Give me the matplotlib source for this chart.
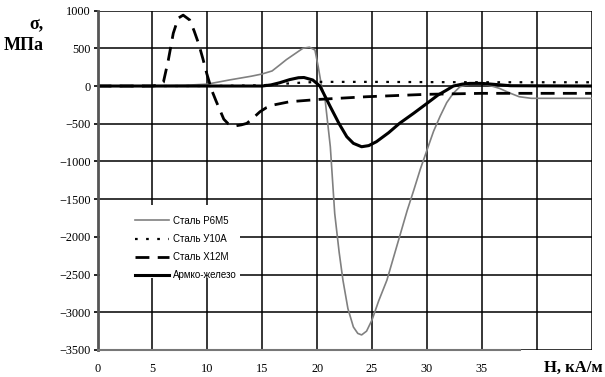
import matplotlib
matplotlib.use('Agg')
import matplotlib.pyplot as plt
from matplotlib.patches import Rectangle

# Сталь Р6М5
h_r6m5 = [0, 5, 8, 10, 12, 14, 15, 15.9, 16.6, 17.2, 17.8, 18.7, 19.3, 19.8, 20.1, 20.4,
          20.7, 21.2, 21.6, 22.0, 22.35, 22.8, 23.3, 23.7, 24.05, 24.5, 25, 25.6, 26.35,
          27, 27.6, 28.2, 28.8, 29.4, 30, 30.6, 31.2, 31.8, 32.4, 33, 33.9, 34.6, 35.3,
          36, 36.6, 37.5, 38.4, 39.5, 45]
s_r6m5 = [0, 2, 10, 25, 80, 130, 160, 200, 280, 350, 410, 500, 515, 477, 255, 0,
          -150, -805, -1690, -2200, -2575, -2950, -3195, -3280, -3300, -3250, -3100, -2850, -2575,
          -2250, -1950, -1650, -1380, -1100, -850, -600, -400, -220, -95, -10, 27, 35, 20,
          -5, -31, -90, -142, -163, -163]

# Сталь У10А
h_u10a = [0, 10, 13, 15, 17, 18, 20, 25, 30, 35, 40, 45]
s_u10a = [0, 0, 5, 10, 30, 40, 55, 55, 52, 50, 50, 50]

# Сталь Х12М
h_x12m = [0, 5, 5.6, 6, 6.45, 6.9, 7.35, 7.8, 8.4, 8.8, 9.2, 9.6, 9.95, 10.4, 10.8, 11.15,
          11.5, 11.9, 12.5, 13.1, 13.6, 14.2, 14.8, 15.4, 16, 17.5, 20.2, 24.5, 30, 35, 45]
s_x12m = [0, 0, 15, 50, 345, 700, 900, 940, 875, 730, 565, 360, 165, -55, -200, -320,
          -440, -500, -530, -515, -495, -420, -340, -285, -252, -208, -177, -142, -110, -97, -97]

# Армко-железо
h_armco = [0, 15, 15.8, 16.6, 17.5, 18.3, 18.8, 19.6, 20.25, 20.7, 21.2, 22, 22.7, 23.3,
           24.05, 24.7, 25.4, 26.5, 27.5, 28.8, 30, 31, 31.8, 32.4, 33.2, 33.9, 35, 36.3,
           37.6, 45]
s_armco = [0, 0, 15, 44, 85, 110, 113, 80, 0, -130, -275, -500, -672, -760,
           -805, -790, -738, -620, -495, -360, -230, -120, -53, 0, 25, 35, 35, 20,
           4, 0]

labels = ['Сталь Р6М5', 'Сталь У10А', 'Сталь Х12М', 'Армко-железо']
xticks = [0, 5, 10, 15, 20, 25, 30, 35, 40, 45]
xticklabels = ['0', '5', '10', '15', '20', '25', '30', '35', '', '']
yticks = [1000, 500, 0, -500, -1000, -1500, -2000, -2500, -3000, -3500]

plt.rcParams['font.family'] = ['Liberation Serif', 'DejaVu Serif']

fig = plt.figure(figsize=(6.05, 3.77), dpi=100)
ax = fig.add_axes([97.5/605, 1 - 350/377, 494.2/605, 339.4/377])

ax.set_axisbelow(True)
ax.grid(True, color='black', linewidth=1.1)

# white patch behind the legend (gridlines are broken there)
ax.add_patch(Rectangle((0.005, 0.212), 0.283, 0.215, transform=ax.transAxes,
                       facecolor='white', edgecolor='none', zorder=1))

ax.plot(h_r6m5, s_r6m5, color='#808080', linewidth=1.2, label=labels[0], zorder=2)
ax.plot(h_u10a, s_u10a, color='black', linewidth=1.6, linestyle=(0, (1.2, 3.8)),
        label=labels[1], zorder=2)
ax.plot(h_x12m, s_x12m, color='black', linewidth=2.0, linestyle=(0, (5, 3)),
        label=labels[2], zorder=2)
ax.plot(h_armco, s_armco, color='black', linewidth=2.2, label=labels[3], zorder=2)

ax.set_xlim(0, 45)
ax.set_ylim(-3500, 1000)
ax.set_xticks(xticks)
ax.set_xticklabels(xticklabels)
ax.set_yticks(yticks)
ax.tick_params(axis='x', length=0, pad=9, labelsize=8.8)
ax.tick_params(axis='y', length=3, width=1.2, pad=2, labelsize=8.8, direction='out')

for s in ['top', 'right']:
    ax.spines[s].set_visible(False)
ax.spines['left'].set_color('#555555')
ax.spines['left'].set_linewidth(2)
ax.spines['bottom'].set_color('#777777')
ax.spines['bottom'].set_linewidth(1.5)
ax.spines['bottom'].set_bounds(0, 38.5)

leg = ax.legend(loc='upper left', bbox_to_anchor=(0.066, 0.41), frameon=False,
                borderpad=0, handlelength=3.5, handletextpad=0.4, labelspacing=0.85,
                prop={'family': 'Liberation Sans', 'size': 7})

fig.text(43/605, 1 - 24/377, 'σ,', ha='right', va='center', fontsize=13, fontweight='bold')
fig.text(44/605, 1 - 46/377, 'МПа', ha='right', va='center', fontsize=13, fontweight='bold')
fig.text(603/605, 1 - 368/377, 'H, кА/м', ha='right', va='center', fontsize=12,
         fontweight='bold')

fig.savefig('out.png', dpi=100)
